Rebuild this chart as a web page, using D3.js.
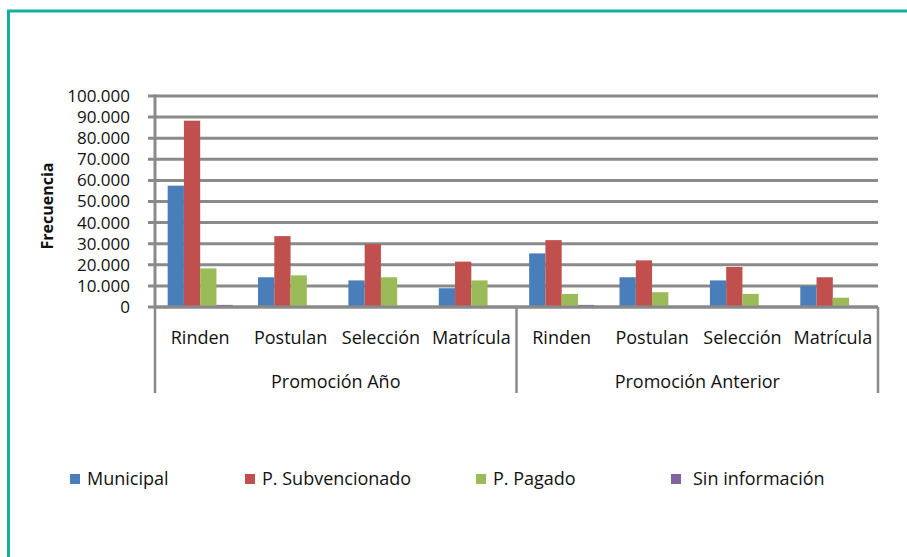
<!DOCTYPE html>
<html lang="es">
<head>
<meta charset="utf-8" />
<script src="https://d3js.org/d3.v7.min.js"></script>
<style>
  body { margin: 0; background: #fff; }
  text { font-family: "Open Sans", sans-serif; fill: #111; }
</style>
</head>
<body>
<svg id="chart" width="907" height="557"></svg>
<script>
// Data
var groups = ["Promoción Año", "Promoción Anterior"];
var stages = ["Rinden", "Postulan", "Selección", "Matrícula"];
var series = ["Municipal", "P. Subvencionado", "P. Pagado", "Sin información"];
var colors = ["#4a7ebb", "#c0504d", "#9bbb59", "#8064a2"];

// one array per series, 8 values (4 stages x 2 groups)
var municipal      = [57500, 14100, 12600, 8900, 25400, 14100, 12600, 9900];
var subvencionado  = [88300, 33600, 29800, 21500, 31700, 22100, 19000, 14100];
var pagado         = [18300, 15000, 14100, 12600, 6200, 7000, 6200, 4400];
var sinInformacion = [1000, 200, 200, 200, 1000, 200, 200, 200];
var values = [municipal, subvencionado, pagado, sinInformacion];

var yTicks = [0, 10000, 20000, 30000, 40000, 50000, 60000, 70000, 80000, 90000, 100000];

var svg = d3.select("#chart");

// teal frame
svg.append("path")
  .attr("d", "M8.5,557 V11 H907")
  .attr("fill", "none")
  .attr("stroke", "#13ae9e")
  .attr("stroke-width", 3);

var plotL = 155, plotR = 878, plotT = 96, plotB = 307;

var cats = [];
groups.forEach(function (g) {
  stages.forEach(function (s) { cats.push(g + "|" + s); });
});

var x0 = d3.scaleBand().domain(cats).range([plotL, plotR])
  .paddingInner(0.28).paddingOuter(0.14);
var x1 = d3.scaleBand().domain(d3.range(series.length))
  .range([0, x0.bandwidth()]);
var y = d3.scaleLinear().domain([0, 100000]).range([plotB, plotT]);

// gridlines
svg.append("g").selectAll("line")
  .data(yTicks)
  .join("line")
  .attr("x1", plotL - 7).attr("x2", plotR)
  .attr("y1", function (d) { return y(d); })
  .attr("y2", function (d) { return y(d); })
  .attr("stroke", "#8a8a8a")
  .attr("stroke-width", 3);

// y labels
svg.append("g").selectAll("text")
  .data(yTicks)
  .join("text")
  .attr("x", 130)
  .attr("y", function (d) { return y(d); })
  .attr("dy", "0.35em")
  .attr("text-anchor", "end")
  .style("font-size", "17px")
  .text(function (d) { return d === 0 ? "0" : d3.format(".3f")(d / 1000); });

// bars
var bars = svg.append("g");
cats.forEach(function (c, i) {
  bars.selectAll(null)
    .data(series)
    .join("rect")
    .attr("x", function (s, j) { return x0(c) + x1(j); })
    .attr("width", x1.bandwidth())
    .attr("y", function (s, j) { return y(values[j][i]); })
    .attr("height", function (s, j) { return plotB - y(values[j][i]); })
    .attr("fill", function (s, j) { return colors[j]; });
});

// y axis line and bottom axis
svg.append("line")
  .attr("x1", plotL).attr("x2", plotL).attr("y1", plotT - 1.5).attr("y2", plotB)
  .attr("stroke", "#8a8a8a").attr("stroke-width", 3);
svg.append("line")
  .attr("x1", plotL).attr("x2", plotR).attr("y1", plotB).attr("y2", plotB)
  .attr("stroke", "#8a8a8a").attr("stroke-width", 3);

// group dividers
var divX = [plotL, x0(cats[4]) - x0.step() * x0.paddingInner() / 2, plotR];
svg.append("g").selectAll("line")
  .data(divX)
  .join("line")
  .attr("x1", function (d) { return d; }).attr("x2", function (d) { return d; })
  .attr("y1", plotB).attr("y2", 393)
  .attr("stroke", "#8a8a8a").attr("stroke-width", 2.5);

// category labels
svg.append("g").selectAll("text")
  .data(cats)
  .join("text")
  .attr("x", function (c) { return x0(c) + x0.bandwidth() / 2; })
  .attr("y", 338)
  .attr("dy", "0.35em")
  .attr("text-anchor", "middle")
  .style("font-size", "18px")
  .text(function (c) { return c.split("|")[1]; });

// group labels
svg.append("g").selectAll("text")
  .data(groups)
  .join("text")
  .attr("x", function (g, i) { return (divX[i] + divX[i + 1]) / 2; })
  .attr("y", 382)
  .attr("dy", "0.35em")
  .attr("text-anchor", "middle")
  .style("font-size", "18px")
  .text(function (g) { return g; });

// axis title
svg.append("text")
  .attr("transform", "translate(47,206) rotate(-90)")
  .attr("dy", "0.35em")
  .attr("text-anchor", "middle")
  .style("font-size", "16px")
  .style("font-weight", "bold")
  .text("Frecuencia");

// legend
var legendX = [70, 245, 476, 671];
var legend = svg.append("g").selectAll("g")
  .data(series)
  .join("g")
  .attr("transform", function (s, i) { return "translate(" + legendX[i] + ",479)"; });
legend.append("rect")
  .attr("x", 0).attr("y", -5).attr("width", 10).attr("height", 10)
  .attr("fill", function (s, i) { return colors[i]; });
legend.append("text")
  .attr("x", function (s, i) { return i === 3 ? 22 : 17; })
  .attr("dy", "0.35em")
  .style("font-size", "18px")
  .text(function (s) { return s; });
</script>
</body>
</html>
